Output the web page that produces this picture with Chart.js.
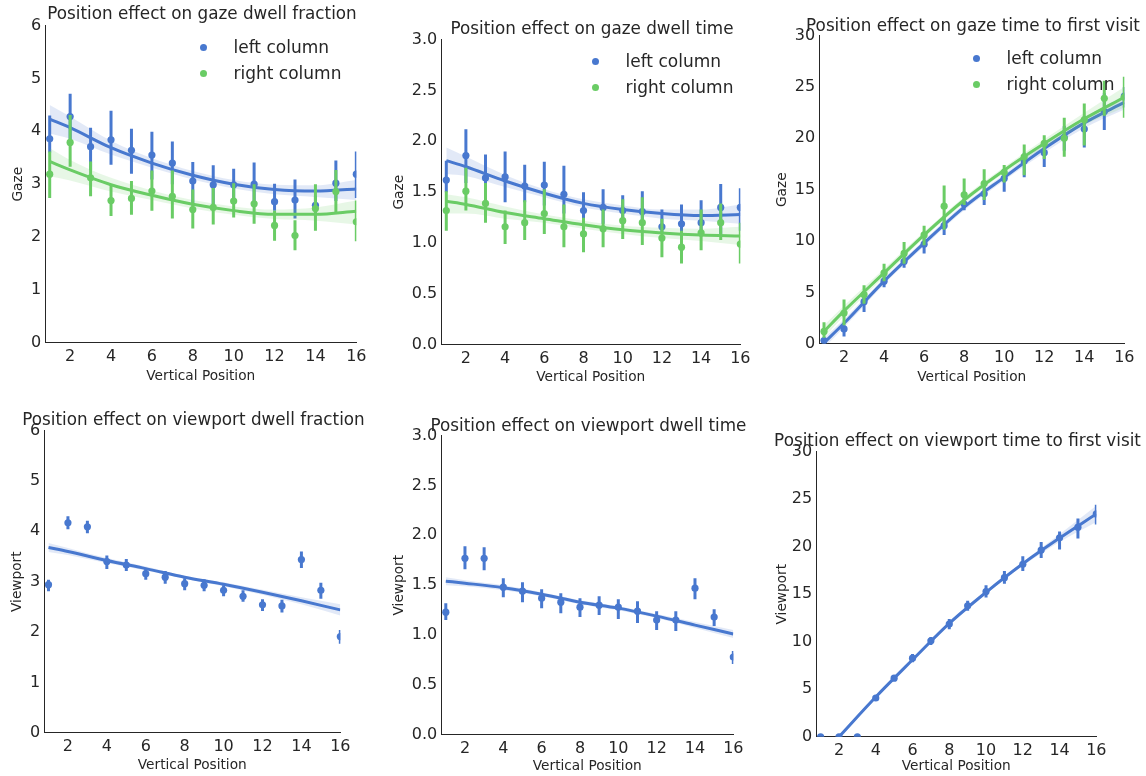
<!DOCTYPE html>
<html>
<head>
<meta charset="utf-8">
<script src="https://cdn.jsdelivr.net/npm/chart.js@4.4.1/dist/chart.umd.min.js"></script>
<style>
  body { margin: 0; background: #fff; width: 1146px; height: 776px; overflow: hidden; position: relative;
         font-family: "DejaVu Sans", sans-serif; color: #262626; }
  canvas { position: absolute; }
  .title { position: absolute; font-size: 16.8px; line-height: 16.8px; white-space: nowrap; transform: translateX(-50%); }
  .legend { position: absolute; font-size: 17px; }
  .lg-row { display: flex; align-items: center; height: 26px; white-space: nowrap; }
  .lg-dot { width: 7px; height: 7px; border-radius: 50%; margin-right: 27px; flex: none; }
  .lg-row span { line-height: 26px; }
</style>
</head>
<body>
<script>
// ── COLOURS ─────────────────────────────────────────────────
const BLUE = '#4878CF', GREEN = '#6ACC65';
const BLUE_BAND = 'rgba(72,120,207,0.16)', GREEN_BAND = 'rgba(106,204,101,0.16)';
const INK = '#262626';
const FONT = '"DejaVu Sans", sans-serif';

// ── DATA ────────────────────────────────────────────────────
const positions = [1, 2, 3, 4, 5, 6, 7, 8, 9, 10, 11, 12, 13, 14, 15, 16];
const fitX = [1, 2, 4, 6, 8, 10, 12, 14, 16];
const xTicks = [2, 4, 6, 8, 10, 12, 14, 16];
const seriesNames = ['left column', 'right column'];

// gaze dwell fraction
const gdfLeft    = [3.86, 4.28, 3.71, 3.84, 3.64, 3.55, 3.40, 3.06, 2.99, 2.99, 3.00, 2.67, 2.70, 2.60, 3.02, 3.19];
const gdfLeftLo  = [3.60, 3.85, 3.27, 3.37, 3.20, 3.09, 3.00, 2.60, 2.59, 2.68, 2.62, 2.50, 2.35, 2.45, 2.68, 2.74];
const gdfLeftHi  = [4.30, 4.71, 4.07, 4.39, 4.05, 3.99, 3.81, 3.42, 3.36, 3.29, 3.41, 3.01, 3.09, 2.78, 3.45, 3.62];
const gdfRight   = [3.19, 3.79, 3.12, 2.69, 2.73, 2.87, 2.77, 2.52, 2.56, 2.68, 2.63, 2.22, 2.03, 2.54, 2.86, 2.29];
const gdfRightLo = [2.74, 3.33, 2.77, 2.40, 2.42, 2.50, 2.35, 2.16, 2.24, 2.37, 2.25, 1.93, 1.75, 2.12, 2.44, 1.92];
const gdfRightHi = [3.62, 4.31, 3.43, 3.00, 3.06, 3.26, 3.26, 2.90, 2.93, 3.02, 3.00, 2.50, 2.32, 3.00, 3.27, 2.69];
const gdfLeftFit    = [4.23, 4.07, 3.69, 3.40, 3.17, 3.00, 2.90, 2.87, 2.91];
const gdfLeftFitLo  = [3.96, 3.86, 3.56, 3.31, 3.09, 2.92, 2.81, 2.76, 2.70];
const gdfLeftFitHi  = [4.50, 4.28, 3.82, 3.49, 3.25, 3.08, 2.99, 2.98, 3.08];
const gdfRightFit   = [3.43, 3.27, 2.99, 2.79, 2.62, 2.50, 2.43, 2.43, 2.49];
const gdfRightFitLo = [3.15, 3.07, 2.86, 2.70, 2.54, 2.42, 2.34, 2.31, 2.24];
const gdfRightFitHi = [3.68, 3.46, 3.12, 2.88, 2.70, 2.58, 2.52, 2.56, 2.69];

// gaze dwell time
const gdtLeft    = [1.62, 1.86, 1.64, 1.65, 1.56, 1.57, 1.48, 1.32, 1.35, 1.32, 1.31, 1.16, 1.19, 1.20, 1.35, 1.35];
const gdtLeftLo  = [1.50, 1.59, 1.42, 1.40, 1.40, 1.37, 1.29, 1.16, 1.19, 1.22, 1.22, 1.09, 1.03, 1.09, 1.09, 1.12];
const gdtLeftHi  = [1.81, 2.12, 1.87, 1.90, 1.77, 1.80, 1.76, 1.50, 1.53, 1.47, 1.51, 1.33, 1.38, 1.42, 1.58, 1.54];
const gdtRight   = [1.32, 1.51, 1.39, 1.16, 1.20, 1.29, 1.16, 1.09, 1.14, 1.22, 1.20, 1.05, 0.96, 1.10, 1.20, 0.99];
const gdtRightLo = [1.12, 1.32, 1.20, 0.99, 1.03, 1.09, 0.96, 0.91, 0.96, 1.04, 0.98, 0.86, 0.80, 0.93, 1.03, 0.80];
const gdtRightHi = [1.51, 1.74, 1.59, 1.32, 1.42, 1.53, 1.38, 1.25, 1.33, 1.43, 1.45, 1.24, 1.12, 1.33, 1.39, 1.20];
const gdtLeftFit    = [1.81, 1.75, 1.61, 1.49, 1.39, 1.33, 1.29, 1.27, 1.28];
const gdtLeftFitLo  = [1.68, 1.66, 1.55, 1.45, 1.35, 1.29, 1.24, 1.22, 1.19];
const gdtLeftFitHi  = [1.94, 1.85, 1.67, 1.53, 1.43, 1.37, 1.33, 1.33, 1.38];
const gdtRightFit   = [1.41, 1.38, 1.30, 1.24, 1.18, 1.13, 1.10, 1.08, 1.07];
const gdtRightFitLo = [1.29, 1.29, 1.24, 1.20, 1.14, 1.09, 1.05, 1.02, 0.98];
const gdtRightFitHi = [1.48, 1.45, 1.36, 1.28, 1.22, 1.17, 1.15, 1.14, 1.16];

// gaze time to first visit
const gtfLeft    = [0.32, 1.45, 4.1, 6.1, 8.0, 9.7, 11.5, 13.6, 14.6, 16.1, 17.8, 18.6, 20.1, 20.9, 22.6, 24.1];
const gtfLeftLo  = [0.1, 0.7, 3.1, 5.5, 7.4, 8.8, 10.6, 13.0, 13.5, 14.8, 16.2, 17.2, 18.8, 19.1, 20.8, 23.0];
const gtfLeftHi  = [0.6, 1.8, 4.6, 6.7, 8.8, 10.6, 12.4, 14.3, 15.6, 17.0, 18.6, 19.6, 21.2, 22.2, 24.4, 25.0];
const gtfRight   = [1.2, 3.0, 4.8, 6.9, 8.8, 10.6, 13.4, 14.5, 15.6, 16.7, 18.2, 19.5, 20.0, 21.8, 23.9, 24.0];
const gtfRightLo = [0.6, 1.8, 3.9, 6.1, 7.8, 9.6, 11.1, 13.5, 14.0, 15.7, 16.4, 18.0, 18.2, 19.3, 22.2, 22.0];
const gtfRightHi = [2.1, 4.3, 5.7, 7.8, 9.9, 11.5, 15.4, 16.1, 17.0, 17.4, 19.4, 20.3, 22.0, 23.4, 25.6, 26.0];
const gtfLeftFit    = [0.1, 2.0, 6.1, 9.8, 13.3, 16.2, 19.0, 21.5, 23.5];
const gtfLeftFitLo  = [-0.4, 1.6, 5.8, 9.5, 13.0, 15.9, 18.6, 21.0, 22.8];
const gtfLeftFitHi  = [0.6, 2.4, 6.4, 10.1, 13.6, 16.5, 19.4, 22.0, 24.2];
const gtfRightFit   = [1.2, 3.2, 6.9, 10.6, 14.0, 16.9, 19.5, 21.9, 24.0];
const gtfRightFitLo = [0.6, 2.7, 6.5, 10.3, 13.7, 16.6, 19.1, 21.3, 23.0];
const gtfRightFitHi = [1.8, 3.7, 7.3, 10.9, 14.3, 17.2, 19.9, 22.5, 25.0];

// viewport dwell fraction
const vdf    = [2.94, 4.17, 4.09, 3.40, 3.33, 3.16, 3.09, 2.96, 2.93, 2.83, 2.71, 2.54, 2.52, 3.44, 2.83, 1.91];
const vdfLo  = [2.81, 4.04, 3.96, 3.25, 3.21, 3.04, 2.96, 2.83, 2.81, 2.71, 2.60, 2.42, 2.39, 3.27, 2.66, 1.77];
const vdfHi  = [3.04, 4.30, 4.21, 3.52, 3.45, 3.27, 3.21, 3.07, 3.05, 2.93, 2.83, 2.65, 2.64, 3.60, 2.98, 2.04];
const vdfFit   = [3.68, 3.60, 3.42, 3.26, 3.09, 2.95, 2.79, 2.62, 2.44];
const vdfFitLo = [3.59, 3.53, 3.37, 3.22, 3.06, 2.91, 2.74, 2.55, 2.33];
const vdfFitHi = [3.77, 3.67, 3.47, 3.30, 3.12, 2.99, 2.84, 2.69, 2.55];

// viewport dwell time
const vdt    = [1.23, 1.77, 1.77, 1.48, 1.44, 1.37, 1.33, 1.28, 1.30, 1.28, 1.24, 1.15, 1.15, 1.47, 1.18, 0.78];
const vdtLo  = [1.15, 1.66, 1.65, 1.38, 1.33, 1.27, 1.22, 1.18, 1.20, 1.16, 1.12, 1.05, 1.04, 1.36, 1.09, 0.71];
const vdtHi  = [1.32, 1.89, 1.88, 1.57, 1.53, 1.46, 1.42, 1.37, 1.39, 1.36, 1.34, 1.24, 1.24, 1.57, 1.26, 0.84];
const vdtFit   = [1.54, 1.52, 1.475, 1.41, 1.33, 1.27, 1.19, 1.10, 1.01];
const vdtFitLo = [1.50, 1.49, 1.45, 1.39, 1.31, 1.25, 1.17, 1.07, 0.97];
const vdtFitHi = [1.58, 1.55, 1.50, 1.43, 1.35, 1.29, 1.21, 1.13, 1.05];

// viewport time to first visit
const vtf    = [0, 0, 0, 4.08, 6.17, 8.27, 10.1, 11.86, 13.78, 15.28, 16.74, 18.14, 19.64, 20.93, 22.05, 23.44];
const vtfLo  = [0, 0, 0, 3.8, 5.9, 7.85, 9.66, 11.3, 13.25, 14.65, 16.1, 17.44, 18.8, 19.7, 20.86, 22.33];
const vtfHi  = [0, 0, 0, 4.4, 6.4, 8.7, 10.5, 12.4, 14.3, 15.94, 17.44, 19.0, 20.5, 21.6, 22.96, 24.4];
const vtfFit   = [-2.1, 0.0, 4.19, 8.1, 11.93, 15.2, 18.2, 20.9, 23.44];
const vtfFitLo = [-2.4, -0.2, 4.0, 7.95, 11.8, 15.05, 18.0, 20.5, 22.6];
const vtfFitHi = [-1.8, 0.2, 4.4, 8.25, 12.1, 15.35, 18.4, 21.3, 24.3];

// ── HELPERS ─────────────────────────────────────────────────
const pts = (xs, ys) => xs.map((x, i) => ({ x, y: ys[i] }));
const errPts = (xs, lo, hi) => xs.flatMap((x, i) => [{ x, y: lo[i] }, { x, y: hi[i] }, { x, y: null }]);

// one hue: fit line on top, then CI band, then points, then error bars
function hueSets(label, color, band, mean, lo, hi, fit, fitLo, fitHi) {
  return [
    { label, data: pts(fitX, fit), borderColor: color, borderWidth: 3, pointRadius: 0,
      cubicInterpolationMode: 'monotone', fill: false },
    { label: label + ' ci', data: pts(fitX, fitHi), borderColor: 'rgba(0,0,0,0)', borderWidth: 0, pointRadius: 0,
      cubicInterpolationMode: 'monotone', backgroundColor: band, fill: '+1' },
    { label: label + ' ci lo', data: pts(fitX, fitLo), borderColor: 'rgba(0,0,0,0)', borderWidth: 0, pointRadius: 0,
      cubicInterpolationMode: 'monotone', fill: false },
    { label: label + ' mean', data: pts(positions, mean), showLine: false, pointRadius: 3.6,
      pointBackgroundColor: color, pointBorderWidth: 0 },
    { label: label + ' err', data: errPts(positions, lo, hi), borderColor: color, borderWidth: 3,
      pointRadius: 0, spanGaps: false, tension: 0, borderCapStyle: 'butt' }
  ];
}

const PAD = 12;

function panel(p) {
  const W = p.yGap + 8.2, H = p.xGap + 8.2;
  const left = p.L - W, top = p.T - PAD;
  const c = document.createElement('canvas');
  c.width = p.R + PAD - left; c.height = p.B + H - top;
  c.style.left = left + 'px'; c.style.top = top + 'px';
  c.style.width = c.width + 'px'; c.style.height = c.height + 'px';
  document.body.appendChild(c);

  const t = document.createElement('div');
  t.className = 'title'; t.textContent = p.title;
  t.style.left = ((p.L + p.R) / 2) + 'px'; t.style.top = p.titleTop + 'px';
  document.body.appendChild(t);

  if (p.legend) {
    const lg = document.createElement('div');
    lg.className = 'legend';
    lg.style.left = (p.legend.x - 3.5) + 'px'; lg.style.top = (p.legend.y - 13) + 'px';
    lg.innerHTML = seriesNames.map((n, i) => `
      <div class="lg-row"><div class="lg-dot" style="background:${[BLUE, GREEN][i]}"></div><span>${n}</span></div>`).join('');
    document.body.appendChild(lg);
  }

  new Chart(c, {
    type: 'line',
    data: { datasets: p.datasets.map(d => Object.assign({ clip: 0 }, d)) },
    options: {
      responsive: false, animation: false, devicePixelRatio: 1,
      layout: { padding: { top: PAD, right: PAD, left: 0, bottom: 0 } },
      plugins: { legend: { display: false }, tooltip: { enabled: false } },
      scales: {
        x: {
          type: 'linear', min: p.xMin, max: 16,
          grid: { display: false, drawTicks: false },
          border: { display: true, color: INK, width: 1 },
          afterBuildTicks: s => { s.ticks = xTicks.map(value => ({ value })); },
          afterFit: s => { s.height = H; },
          ticks: { color: INK, font: { family: FONT, size: 16 }, padding: 4.5, autoSkip: false, maxRotation: 0,
                   callback: v => String(v) },
          title: { display: true, text: 'Vertical Position', color: INK, font: { family: FONT, size: 13.7 }, padding: 0 }
        },
        y: {
          type: 'linear', min: 0, max: p.yMax,
          grid: { display: false, drawTicks: false },
          border: { display: true, color: INK, width: 1 },
          afterFit: s => { s.width = W; },
          ticks: { stepSize: p.yStep, color: INK, font: { family: FONT, size: 16 }, padding: 4,
                   callback: v => v.toFixed(p.yDec) },
          title: { display: true, text: p.yTitle, color: INK, font: { family: FONT, size: 13.7 }, padding: 0 }
        }
      }
    }
  });
}

// ── RENDER ──────────────────────────────────────────────────
panel({ L: 45, T: 24, R: 359, B: 343, xMin: 0.78, yMax: 6, yStep: 1, yDec: 0, yTitle: 'Gaze', yGap: 27, xGap: 34,
  title: 'Position effect on gaze dwell fraction', titleTop: 5, legend: { x: 203, y: 47 },
  datasets: [
    ...hueSets(seriesNames[1], GREEN, GREEN_BAND, gdfRight, gdfRightLo, gdfRightHi, gdfRightFit, gdfRightFitLo, gdfRightFitHi),
    ...hueSets(seriesNames[0], BLUE, BLUE_BAND, gdfLeft, gdfLeftLo, gdfLeftHi, gdfLeftFit, gdfLeftFitLo, gdfLeftFitHi)
  ] });

panel({ L: 441, T: 38, R: 743, B: 345, xMin: 0.74, yMax: 3, yStep: 0.5, yDec: 1, yTitle: 'Gaze', yGap: 42, xGap: 33,
  title: 'Position effect on gaze dwell time', titleTop: 20, legend: { x: 595, y: 61 },
  datasets: [
    ...hueSets(seriesNames[1], GREEN, GREEN_BAND, gdtRight, gdtRightLo, gdtRightHi, gdtRightFit, gdtRightFitLo, gdtRightFitHi),
    ...hueSets(seriesNames[0], BLUE, BLUE_BAND, gdtLeft, gdtLeftLo, gdtLeftHi, gdtLeftFit, gdtLeftFitLo, gdtLeftFitHi)
  ] });

panel({ L: 819, T: 34, R: 1127, B: 344, xMin: 0.76, yMax: 30, yStep: 5, yDec: 0, yTitle: 'Gaze', yGap: 37, xGap: 34,
  title: 'Position effect on gaze time to first visit', titleTop: 17, legend: { x: 976, y: 58 },
  datasets: [
    ...hueSets(seriesNames[1], GREEN, GREEN_BAND, gtfRight, gtfRightLo, gtfRightHi, gtfRightFit, gtfRightFitLo, gtfRightFitHi),
    ...hueSets(seriesNames[0], BLUE, BLUE_BAND, gtfLeft, gtfLeftLo, gtfLeftHi, gtfLeftFit, gtfLeftFitLo, gtfLeftFitHi)
  ] });

panel({ L: 44, T: 429, R: 343, B: 733, xMin: 0.78, yMax: 6, yStep: 1, yDec: 0, yTitle: 'Viewport', yGap: 27, xGap: 33,
  title: 'Position effect on viewport dwell fraction', titleTop: 411,
  datasets: hueSets('viewport', BLUE, BLUE_BAND, vdf, vdfLo, vdfHi, vdfFit, vdfFitLo, vdfFitHi) });

panel({ L: 441, T: 434, R: 736, B: 735, xMin: 0.76, yMax: 3, yStep: 0.5, yDec: 1, yTitle: 'Viewport', yGap: 42, xGap: 32,
  title: 'Position effect on viewport dwell time', titleTop: 417,
  datasets: hueSets('viewport', BLUE, BLUE_BAND, vdt, vdtLo, vdtHi, vdtFit, vdtFitLo, vdtFitHi) });

panel({ L: 816, T: 450, R: 1099, B: 737, xMin: 0.76, yMax: 30, yStep: 5, yDec: 0, yTitle: 'Viewport', yGap: 34, xGap: 30,
  title: 'Position effect on viewport time to first visit', titleTop: 432,
  datasets: hueSets('viewport', BLUE, BLUE_BAND, vtf, vtfLo, vtfHi, vtfFit, vtfFitLo, vtfFitHi) });
</script>
</body>
</html>
